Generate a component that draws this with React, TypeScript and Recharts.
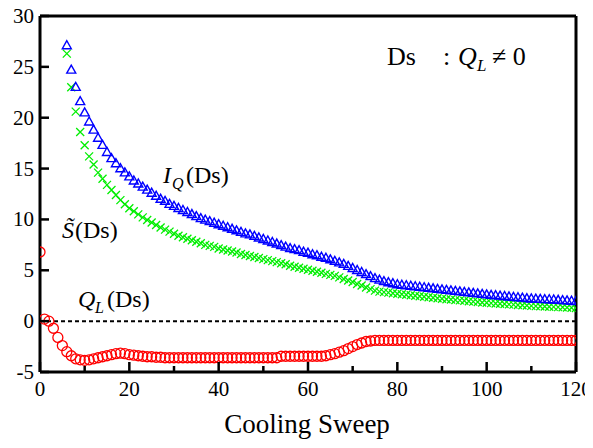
import {
  ComposedChart,
  Scatter,
  XAxis,
  YAxis,
  ReferenceLine,
} from "recharts";

// Q_L(Ds), sweeps 0..120
const qlStart = 0;
const qlValues = [
  6.8, 0.2, 0.0, -0.7, -1.6, -2.4, -3.0, -3.4, -3.7, -3.8,
  -3.85, -3.8, -3.7, -3.6, -3.5, -3.4, -3.3, -3.2, -3.15, -3.2,
  -3.3, -3.35, -3.4, -3.45, -3.5, -3.5, -3.55, -3.55, -3.6, -3.6,
  -3.6, -3.6, -3.6, -3.6, -3.6, -3.6, -3.6, -3.6, -3.6, -3.6,
  -3.6, -3.6, -3.6, -3.6, -3.6, -3.6, -3.6, -3.6, -3.6, -3.6,
  -3.6, -3.6, -3.6, -3.6, -3.45, -3.45, -3.45, -3.45, -3.45, -3.45,
  -3.45, -3.45, -3.45, -3.45, -3.4, -3.3, -3.2, -3.05, -2.9, -2.7,
  -2.5, -2.3, -2.15, -2.0, -1.95, -1.9, -1.9, -1.9, -1.9, -1.9,
  -1.9, -1.9, -1.9, -1.9, -1.9, -1.9, -1.9, -1.9, -1.9, -1.9,
  -1.9, -1.9, -1.9, -1.9, -1.9, -1.9, -1.9, -1.9, -1.9, -1.9,
  -1.9, -1.9, -1.9, -1.9, -1.9, -1.9, -1.9, -1.9, -1.9, -1.9,
  -1.9, -1.9, -1.9, -1.9, -1.9, -1.9, -1.9, -1.9, -1.9, -1.9,
  -1.9,
];

// I_Q(Ds), sweeps 6..120
const iqStart = 6;
const iqValues = [
  27.1, 24.7, 23.0, 21.6, 20.5, 19.6, 18.8, 18.0, 17.3, 16.6,
  16.0, 15.5, 15.0, 14.6, 14.2, 13.8, 13.5, 13.2, 12.9, 12.6,
  12.3, 12.0, 11.8, 11.5, 11.3, 11.1, 10.9, 10.7, 10.5, 10.3,
  10.1, 9.95, 9.8, 9.65, 9.5, 9.35, 9.2, 9.05, 8.9, 8.75,
  8.6, 8.5, 8.35, 8.2, 8.05, 7.9, 7.75, 7.6, 7.45, 7.3,
  7.15, 7.05, 6.95, 6.8, 6.7, 6.55, 6.45, 6.3, 6.2, 6.05,
  5.9, 5.75, 5.6, 5.4, 5.2, 5.0, 4.8, 4.6, 4.4, 4.2,
  4.05, 3.9, 3.8, 3.7, 3.6, 3.55, 3.5, 3.45, 3.4, 3.35,
  3.3, 3.25, 3.2, 3.15, 3.1, 3.05, 3.0, 2.95, 2.9, 2.85,
  2.8, 2.75, 2.7, 2.65, 2.6, 2.56, 2.52, 2.48, 2.44, 2.4,
  2.36, 2.32, 2.28, 2.24, 2.2, 2.18, 2.16, 2.14, 2.12, 2.1,
  2.07, 2.04, 2.01, 1.98, 1.95,
];

// S~(Ds), sweeps 6..120
const sStart = 6;
const sValues = [
  26.3, 23.0, 20.6, 18.6, 17.3, 16.2, 15.4, 14.6, 14.0, 13.4,
  12.9, 12.4, 11.9, 11.5, 11.1, 10.8, 10.5, 10.2, 9.95, 9.7,
  9.45, 9.2, 9.0, 8.8, 8.6, 8.4, 8.25, 8.1, 7.95, 7.8,
  7.65, 7.5, 7.4, 7.3, 7.15, 7.05, 6.95, 6.85, 6.75, 6.6,
  6.5, 6.4, 6.3, 6.2, 6.1, 6.0, 5.9, 5.8, 5.7, 5.6,
  5.45, 5.35, 5.25, 5.15, 5.05, 4.95, 4.85, 4.75, 4.65, 4.55,
  4.45, 4.3, 4.15, 4.0, 3.85, 3.65, 3.5, 3.3, 3.15, 3.0,
  2.9, 2.85, 2.8, 2.75, 2.7, 2.65, 2.6, 2.55, 2.5, 2.45,
  2.4, 2.35, 2.3, 2.25, 2.2, 2.16, 2.12, 2.08, 2.04, 2.0,
  1.96, 1.92, 1.88, 1.84, 1.8, 1.77, 1.74, 1.71, 1.68, 1.65,
  1.62, 1.59, 1.56, 1.53, 1.5, 1.48, 1.46, 1.44, 1.42, 1.4,
  1.38, 1.36, 1.34, 1.32, 1.3,
];

const xTicks = [0, 10, 20, 30, 40, 50, 60, 70, 80, 90, 100, 110, 120];
const yTicks = [-5, 0, 5, 10, 15, 20, 25, 30];

const toPoints = (start: number, values: number[]) =>
  values.map((v, i) => ({ x: start + i, y: v }));

const FONT = "Liberation Serif, Times New Roman, Times, serif";
const serif = { fontFamily: FONT };
const W = 593;
const H = 448;
const PLOT_LEFT = 40;
const PLOT_BOTTOM = 372;

const Triangle = (props: any) => {
  const { cx, cy } = props;
  if (cx == null || cy == null) return null;
  const pts = `${cx},${cy - 4.8} ${cx - 4.5},${cy + 3.2} ${cx + 4.5},${cy + 3.2}`;
  return <polygon points={pts} fill="none" stroke="#0000ff" strokeWidth={1.4} />;
};

const Cross = (props: any) => {
  const { cx, cy } = props;
  if (cx == null || cy == null) return null;
  const d = 4;
  return (
    <path
      d={`M${cx - d},${cy - d}L${cx + d},${cy + d}M${cx - d},${cy + d}L${cx + d},${cy - d}`}
      stroke="#00ee00"
      strokeWidth={1.3}
      fill="none"
    />
  );
};

const Ring = (props: any) => {
  const { cx, cy } = props;
  if (cx == null || cy == null) return null;
  return <circle cx={cx} cy={cy} r={5} fill="none" stroke="#ff0000" strokeWidth={1.3} />;
};

const renderYTick = (props: any) => {
  const { y, payload } = props;
  return (
    <g key={`yt-${payload.value}`}>
      <line x1={PLOT_LEFT} x2={PLOT_LEFT + 9} y1={y} y2={y} stroke="#000" strokeWidth={2.5} />
      <text x={PLOT_LEFT - 6} y={y + 7} textAnchor="end" style={serif} fontSize={21} fill="#000">
        {payload.value}
      </text>
    </g>
  );
};

const renderXTick = (props: any) => {
  const { x, payload } = props;
  const major = payload.value % 20 === 0;
  return (
    <g key={`xt-${payload.value}`}>
      <line
        x1={x}
        x2={x}
        y1={PLOT_BOTTOM}
        y2={PLOT_BOTTOM - (major ? 10 : 6)}
        stroke="#000"
        strokeWidth={2.5}
      />
      {major && (
        <text x={x} y={PLOT_BOTTOM + 24} textAnchor="middle" style={serif} fontSize={21} fill="#000">
          {payload.value}
        </text>
      )}
    </g>
  );
};

export default function App() {
  const ql = toPoints(qlStart, qlValues);
  const iq = toPoints(iqStart, iqValues);
  const s = toPoints(sStart, sValues);

  return (
    <div style={{ position: "relative", width: W, height: H, margin: -8, fontFamily: FONT }}>
      <ComposedChart width={W} height={H} margin={{ top: 16, right: 17, left: 0, bottom: 0 }}>
        <XAxis
          type="number"
          dataKey="x"
          domain={[0, 120]}
          ticks={xTicks}
          interval={0}
          tickLine={false}
          axisLine={{ stroke: "#000", strokeWidth: 3 }}
          tick={renderXTick}
          height={76}
          allowDataOverflow
        />
        <YAxis
          type="number"
          dataKey="y"
          domain={[-5, 30]}
          ticks={yTicks}
          interval={0}
          tickLine={false}
          axisLine={{ stroke: "#000", strokeWidth: 3 }}
          tick={renderYTick}
          width={40}
          allowDataOverflow
        />
        <ReferenceLine y={30} stroke="#000" strokeWidth={3} />
        <ReferenceLine x={120} stroke="#000" strokeWidth={3} />
        <ReferenceLine y={0} stroke="#000" strokeWidth={2} strokeDasharray="4 3" />
        <Scatter data={ql} shape={<Ring />} isAnimationActive={false} />
        <Scatter data={s} shape={<Cross />} isAnimationActive={false} />
        <Scatter data={iq} shape={<Triangle />} isAnimationActive={false} />
      </ComposedChart>
      <svg
        width={W}
        height={H}
        style={{ position: "absolute", left: 0, top: 0, pointerEvents: "none" }}
      >
        <g style={serif} fill="#000">
          <text x={307} y={433} textAnchor="middle" fontSize={27}>
            Cooling Sweep
          </text>
          <text x={387} y={65} fontSize={26}>
            Ds
          </text>
          <text x={443} y={65} fontSize={26}>
            :
          </text>
          <text x={458} y={65} fontSize={26} fontStyle="italic">
            Q
          </text>
          <text x={477} y={71} fontSize={17} fontStyle="italic">
            L
          </text>
          <text x={492} y={65} fontSize={26}>
            ≠ 0
          </text>
          <text x={163} y={183} fontSize={24} fontStyle="italic">
            I
          </text>
          <text x={172} y={189} fontSize={16} fontStyle="italic">
            Q
          </text>
          <text x={186} y={183} fontSize={24}>
            (Ds)
          </text>
          <text x={62} y={238} fontSize={24} fontStyle="italic">
            S̃
          </text>
          <text x={75} y={238} fontSize={24}>
            (Ds)
          </text>
          <text x={78} y={307} fontSize={24} fontStyle="italic">
            Q
          </text>
          <text x={95} y={313} fontSize={16} fontStyle="italic">
            L
          </text>
          <text x={107} y={307} fontSize={24}>
            (Ds)
          </text>
        </g>
      </svg>
    </div>
  );
}
